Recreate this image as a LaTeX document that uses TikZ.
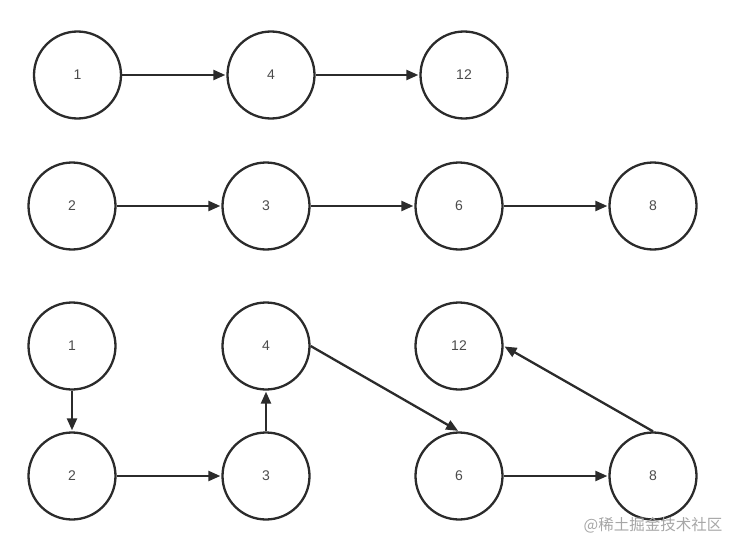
\documentclass[tikz,border=0pt]{standalone}
\usepackage{fontspec}
\setmainfont{Liberation Sans}
\newfontfamily\cjkfont{Noto Sans CJK SC}
\usetikzlibrary{arrows.meta}
\definecolor{ink}{HTML}{2B2B2B}
\tikzset{
  vert/.style={circle, draw=ink, line width=2.3pt, minimum size=87pt, inner sep=0pt, font=\fontsize{14}{16}\selectfont, text=ink!85},
  conn/.style={draw=ink, line width=2.3pt, -{Triangle[length=12pt,width=10pt]}, shorten >=1pt}
}
\begin{document}
\begin{tikzpicture}[x=1pt,y=-1pt]
\useasboundingbox (0,0) rectangle (739,551);
% row 1
\node[vert] (a1) at (77.5,75) {1};
\node[vert] (a4) at (271,75) {4};
\node[vert] (a12) at (464,75) {12};
% row 2
\node[vert] (b2) at (72,206) {2};
\node[vert] (b3) at (266,206) {3};
\node[vert] (b6) at (459,206) {6};
\node[vert] (b8) at (653,206) {8};
% rows 3-4
\node[vert] (c1) at (72,346) {1};
\node[vert] (c4) at (266,346) {4};
\node[vert] (c12) at (459,346) {12};
\node[vert] (d2) at (72,476) {2};
\node[vert] (d3) at (266,476) {3};
\node[vert] (d6) at (459,476) {6};
\node[vert] (d8) at (653,476) {8};
% connectors
\draw[conn] (a1) -- (a4);
\draw[conn] (a4) -- (a12);
\draw[conn] (b2) -- (b3);
\draw[conn] (b3) -- (b6);
\draw[conn] (b6) -- (b8);
\draw[conn] (c1) -- (d2);
\draw[conn] (d2) -- (d3);
\draw[conn] (d3) -- (c4);
\draw[conn] (c4.east) -- (d6.north);
\draw[conn] (d6) -- (d8);
\draw[conn] (d8.north) -- (c12.east);
% watermark
\node[text=black!35, font=\cjkfont\fontsize{15.5}{17}\selectfont, anchor=center] (wm) at (653,525) {@稀土掘金技术社区};
\end{tikzpicture}
\end{document}
